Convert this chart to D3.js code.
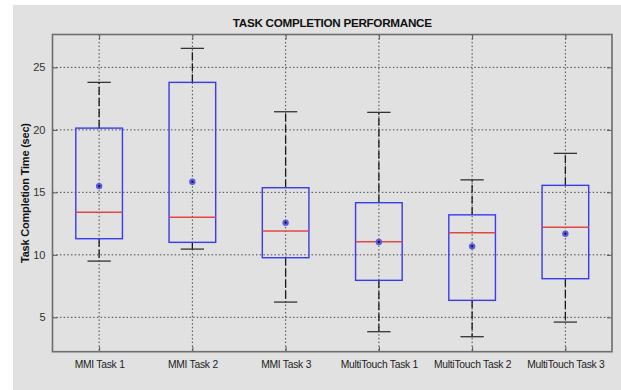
<!DOCTYPE html>
<html>
<head>
<meta charset="utf-8">
<script src="https://cdn.jsdelivr.net/npm/d3@7"></script>
<style>
  html, body { margin: 0; padding: 0; background: #ffffff; }
  svg { display: block; }
  text { font-family: "Liberation Sans", Arial, sans-serif; }
</style>
</head>
<body>
<svg id="chart" width="621" height="390"></svg>
<script>
// Task completion times per condition (seconds)
const categories = ["MMI Task 1", "MMI Task 2", "MMI Task 3",
                    "MultiTouch Task 1", "MultiTouch Task 2", "MultiTouch Task 3"];
const lowerWhisker = [9.5, 10.46, 6.22, 3.85, 3.45, 4.62];
const q1Values     = [11.29, 11.0, 9.77, 7.96, 6.36, 8.09];
const medianValues = [13.4, 13.0, 11.9, 11.05, 11.77, 12.2];
const q3Values     = [20.14, 23.8, 15.37, 14.17, 13.2, 15.56];
const upperWhisker = [23.8, 26.52, 21.45, 21.4, 16.0, 18.12];
const meanValues   = [15.5, 15.85, 12.57, 11.03, 10.68, 11.69];
const yTicks = [5, 10, 15, 20, 25];

const boxes = categories.map((c, i) => ({
  name: c, pos: i + 1,
  lo: lowerWhisker[i], q1: q1Values[i], med: medianValues[i],
  q3: q3Values[i], hi: upperWhisker[i], mean: meanValues[i]
}));

const svg = d3.select("#chart");
const plotL = 52.5, plotR = 612, plotT = 34.5, plotB = 351.7;

const x = d3.scaleLinear().domain([0.5, 6.5]).range([plotL, plotR]);
const y = d3.scaleLinear().domain([2.25, 27.63]).range([plotB, plotT]);

// figure background
svg.append("rect").attr("x", 13).attr("y", 5).attr("width", 608).attr("height", 385)
  .attr("fill", "#e1e1e1");

// grid lines (dotted)
const grid = svg.append("g");
grid.selectAll("line.h").data(yTicks).join("line")
  .attr("x1", plotL).attr("x2", plotR)
  .attr("y1", d => y(d)).attr("y2", d => y(d))
  .attr("stroke", "#4a4a4a").attr("stroke-width", 1).attr("stroke-dasharray", "1.5,2.2");
grid.selectAll("line.v").data(boxes).join("line")
  .attr("x1", d => x(d.pos)).attr("x2", d => x(d.pos))
  .attr("y1", plotT).attr("y2", plotB)
  .attr("stroke", "#4a4a4a").attr("stroke-width", 1).attr("stroke-dasharray", "1.5,2.2");

// axes with inward ticks
const yAxis = d3.axisLeft(y).tickValues(yTicks).tickSize(-5).tickPadding(7).tickFormat(d3.format("d"));
const gy = svg.append("g").attr("transform", `translate(${plotL},0)`).call(yAxis);
gy.select(".domain").remove();
gy.selectAll(".tick line").attr("stroke", "#555");
gy.selectAll(".tick text").attr("font-size", 11).attr("fill", "#333");

const yAxisR = d3.axisRight(y).tickValues(yTicks).tickSize(-5).tickFormat("");
const gyr = svg.append("g").attr("transform", `translate(${plotR},0)`).call(yAxisR);
gyr.select(".domain").remove();
gyr.selectAll(".tick line").attr("stroke", "#555");

const xAxis = d3.axisBottom(x).tickValues(boxes.map(d => d.pos)).tickSize(-5).tickPadding(9)
  .tickFormat((d, i) => categories[i]);
const gx = svg.append("g").attr("transform", `translate(0,${plotB})`).call(xAxis);
gx.select(".domain").remove();
gx.selectAll(".tick line").attr("stroke", "#555");
gx.selectAll(".tick text").attr("font-size", 10.3).attr("fill", "#222").attr("letter-spacing", -0.25);

const xAxisT = d3.axisTop(x).tickValues(boxes.map(d => d.pos)).tickSize(-5).tickFormat("");
const gxt = svg.append("g").attr("transform", `translate(0,${plotT})`).call(xAxisT);
gxt.select(".domain").remove();
gxt.selectAll(".tick line").attr("stroke", "#555");

// box plots
const boxW = x(1.25) - x(0.75);
const capW = x(1.125) - x(0.875);
const g = svg.append("g").selectAll("g").data(boxes).join("g");

// whiskers (dashed)
g.append("line")
  .attr("x1", d => x(d.pos)).attr("x2", d => x(d.pos))
  .attr("y1", d => y(d.q3)).attr("y2", d => y(d.hi))
  .attr("stroke", "#1a1a1a").attr("stroke-width", 1.3).attr("stroke-dasharray", "8,3");
g.append("line")
  .attr("x1", d => x(d.pos)).attr("x2", d => x(d.pos))
  .attr("y1", d => y(d.q1)).attr("y2", d => y(d.lo))
  .attr("stroke", "#1a1a1a").attr("stroke-width", 1.3).attr("stroke-dasharray", "8,3");
// whisker caps
["hi", "lo"].forEach(k => {
  g.append("line")
    .attr("x1", d => x(d.pos) - capW / 2).attr("x2", d => x(d.pos) + capW / 2)
    .attr("y1", d => y(d[k])).attr("y2", d => y(d[k]))
    .attr("stroke", "#333").attr("stroke-width", 1.3);
});
// boxes
g.append("rect")
  .attr("x", d => x(d.pos) - boxW / 2).attr("width", boxW)
  .attr("y", d => y(d.q3)).attr("height", d => y(d.q1) - y(d.q3))
  .attr("fill", "none").attr("stroke", "#3a3af0").attr("stroke-width", 1.4);
// medians
g.append("line")
  .attr("x1", d => x(d.pos) - boxW / 2).attr("x2", d => x(d.pos) + boxW / 2)
  .attr("y1", d => y(d.med)).attr("y2", d => y(d.med))
  .attr("stroke", "#e04848").attr("stroke-width", 1.5);
// means
g.append("circle")
  .attr("cx", d => x(d.pos)).attr("cy", d => y(d.mean)).attr("r", 3.2)
  .attr("fill", "#5a5ae6");
g.append("circle")
  .attr("cx", d => x(d.pos)).attr("cy", d => y(d.mean)).attr("r", 1.1)
  .attr("fill", "#111");

// axes frame
svg.append("rect").attr("x", plotL).attr("y", plotT)
  .attr("width", plotR - plotL).attr("height", plotB - plotT)
  .attr("fill", "none").attr("stroke", "#6e6e6e").attr("stroke-width", 1.6);

// title
svg.append("text").attr("x", (plotL + plotR) / 2).attr("y", 26.8)
  .attr("text-anchor", "middle").attr("font-size", 11.7).attr("font-weight", "bold")
  .attr("letter-spacing", -0.3).attr("fill", "#111")
  .text("TASK COMPLETION PERFORMANCE");

// y axis label
svg.append("text")
  .attr("transform", `translate(29,${(plotT + plotB) / 2}) rotate(-90)`)
  .attr("text-anchor", "middle").attr("font-size", 11).attr("font-weight", "bold")
  .attr("letter-spacing", -0.2).attr("fill", "#111")
  .text("Task Completion Time (sec)");
</script>
</body>
</html>
